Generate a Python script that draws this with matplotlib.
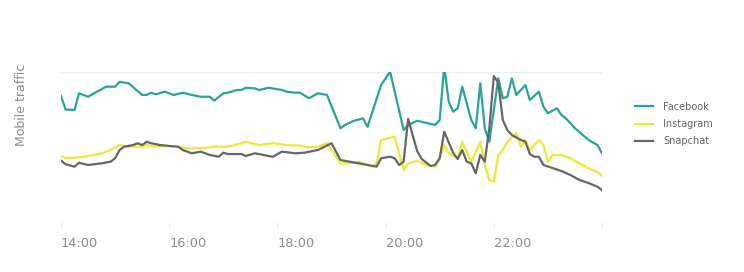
import matplotlib.pyplot as plt

# Mobile traffic per app, 14:00 - 24:00 (minutes after 14:00, relative traffic)
fb_min = [0, 5, 15, 20, 30, 40, 50, 60, 65, 75, 90, 95, 100, 105, 115, 125, 135, 145,
          155, 165, 170, 180, 185, 195, 200, 205, 215, 220, 230, 245, 250, 260, 265, 275,
          285, 295, 310, 315, 325, 335, 340, 355, 365, 380, 385, 395, 415, 420, 425, 430,
          435, 440, 445, 455, 460, 465, 470, 475, 485, 490, 495, 500, 505, 515, 520, 530,
          535, 540, 550, 555, 560, 570, 585, 595, 600]
fb_val = [84, 75, 74.7, 85.8, 83.5, 86.9, 90.2, 90.2, 93.5, 92.5, 84.7, 84.7, 86.2, 85.1,
          86.9, 84.7, 86.2, 84.7, 83.5, 83.5, 80.9, 85.8, 86.2, 88, 88, 89.5, 89.1, 88,
          89.5, 88, 86.9, 86.2, 86.2, 82.5, 85.8, 84.7, 62.5, 64.7, 67.5, 69.1, 63.5, 91.3,
          100.2, 61.3, 64.7, 67.5, 64.7, 68, 104, 80.2, 73.5, 75.8, 90.2, 68, 62.5, 92.5,
          62.5, 53.5, 95.8, 82.5, 83.5, 95.8, 84.7, 91.3, 81.3, 86.9, 76.9, 72.5, 75.8,
          71.3, 69.1, 62.5, 54.7, 51.3, 45.8]

ig_min = [0, 5, 20, 30, 45, 55, 65, 75, 90, 95, 105, 115, 130, 140, 155, 170, 185, 200,
          205, 220, 235, 250, 265, 275, 285, 295, 300, 310, 320, 330, 345, 350, 355, 370,
          380, 385, 395, 405, 415, 420, 425, 430, 440, 445, 450, 455, 465, 470, 475, 480,
          485, 490, 495, 505, 510, 515, 520, 530, 535, 540, 545, 555, 565, 575, 585, 595,
          600]
ig_val = [44, 42.5, 43.1, 44, 45.8, 48, 51.3, 50.2, 50.2, 51.3, 50.2, 50.7, 50.2, 49.1,
          49.1, 50.2, 50.2, 52.5, 53.5, 51.3, 52.5, 51.3, 50.9, 49.8, 50.2, 52.5, 48, 39.1,
          39.1, 40.2, 36.9, 39.1, 54.7, 56.9, 34.7, 39.1, 40.7, 38, 36.9, 42.5, 51.3, 45.8,
          42.5, 53.5, 46.9, 40.2, 53.5, 38, 28, 26.9, 44.7, 48, 53.5, 59.1, 50.2, 54.7, 48,
          54.7, 51.3, 40.2, 44.7, 44.7, 42.5, 39.1, 35.8, 33.3, 30.7]

sc_min = [0, 5, 15, 20, 30, 45, 55, 60, 65, 70, 80, 85, 90, 95, 100, 110, 120, 130, 135,
          145, 155, 165, 175, 180, 185, 200, 205, 215, 230, 235, 245, 260, 270, 285, 300,
          310, 320, 330, 340, 350, 355, 365, 370, 375, 380, 385, 395, 400, 410, 415, 420,
          425, 435, 440, 445, 450, 455, 460, 465, 470, 475, 480, 485, 490, 495, 500, 510,
          515, 520, 525, 530, 535, 545, 555, 565, 575, 585, 595, 600]
sc_val = [40.9, 38.5, 36.9, 39.5, 38, 39.1, 40.2, 42.5, 48, 50.2, 51.3, 52.5, 51.3, 53.5,
          52.5, 51.3, 50.7, 50.2, 48, 45.8, 46.9, 44.7, 43.5, 46.2, 45.3, 45.3, 44, 45.8,
          44, 43.5, 46.9, 45.8, 46.2, 48, 52.5, 41.3, 40.2, 39.1, 38, 36.9, 42.5, 43.5,
          42.5, 38, 40.2, 68.7, 47.3, 42, 37.3, 38, 42.5, 60.2, 46, 42, 48, 40.2, 39.1,
          32.5, 44.7, 40.2, 62.5, 97.3, 92.7, 68, 61.3, 58, 54.7, 53.5, 45.3, 43.5, 43.5,
          38, 36, 34, 31.3, 28, 26, 23.5, 21.3]

tick_min = [0, 120, 240, 360, 480, 600]
tick_labels = ['14:00', '16:00', '18:00', '20:00', '22:00', '']

fig = plt.figure(figsize=(7.44, 2.72), dpi=100)
ax = fig.add_axes([61 / 744, 50 / 272, 541 / 744, 150 / 272])

ax.plot(fb_min, fb_val, color='#2aa39a', lw=1.6, label='Facebook')
ax.plot(ig_min, ig_val, color='#eee83c', lw=1.6, label='Instagram')
ax.plot(sc_min, sc_val, color='#666666', lw=1.6, label='Snapchat')

ax.set_xlim(0, 600)
ax.set_ylim(0, 100)
ax.set_yticks([0, 100])
ax.yaxis.grid(True, color='#eeeeee', lw=1)
ax.tick_params(axis='y', left=False, labelleft=False)
ax.set_xticks(tick_min)
ax.set_xticklabels(tick_labels, ha='left')
ax.tick_params(axis='x', length=5, color='#eeeeee', pad=6, labelsize=9.3, labelcolor='#8c8c8c')
for s in ax.spines.values():
    s.set_visible(False)
ax.set_axisbelow(True)

fig.text(22 / 744, 1 - 105 / 272, 'Mobile traffic', rotation=90, ha='center', va='center',
         fontsize=9, color='#8c8c8c')

ax.legend(loc='center left', bbox_to_anchor=(635 / 744, 1 - 124 / 272),
          bbox_transform=fig.transFigure, frameon=False, fontsize=7, labelcolor='#666666',
          handlelength=1.9, handletextpad=1.0, labelspacing=0.75, borderpad=0, borderaxespad=0)

fig.savefig('out.png', dpi=100)
